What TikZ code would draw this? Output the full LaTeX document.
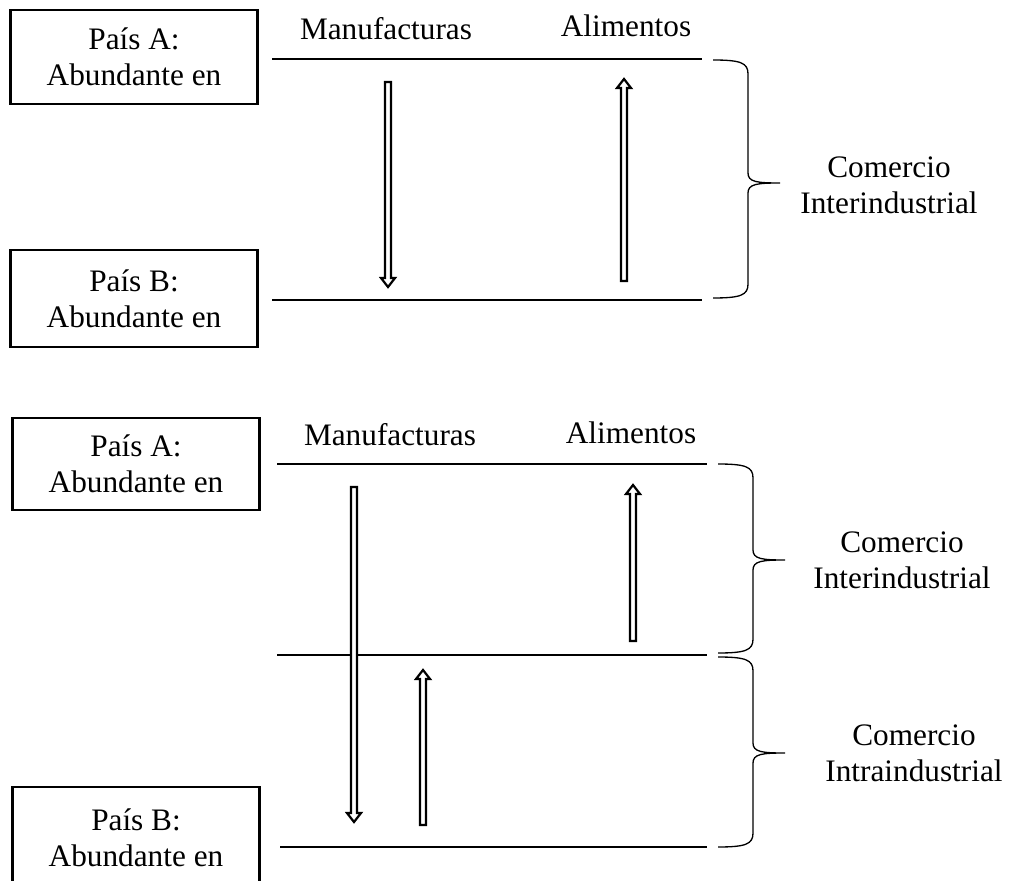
\documentclass[tikz,border=0pt]{standalone}
\usepackage{fontspec}
\setmainfont{Liberation Serif}
\usetikzlibrary{calc}
\def\flechabaja(#1,#2,#3){\draw[flecha] ({#1-3},#2) -- ({#1+3},#2) -- ({#1+3},{#3-9}) -- ({#1+7},{#3-9}) -- (#1,#3) -- ({#1-7},{#3-9}) -- ({#1-3},{#3-9}) -- cycle;}
\def\flechasube(#1,#2,#3){\draw[flecha] ({#1-3},#2) -- ({#1+3},#2) -- ({#1+3},{#3+9}) -- ({#1+7},{#3+9}) -- (#1,#3) -- ({#1-7},{#3+9}) -- ({#1-3},{#3+9}) -- cycle;}
\def\llave(#1,#2,#3,#4){\draw[line width=0.75pt] (#1,#2) .. controls ({#1+28},#2) and ({#1+35},{#2+3}) .. ({#1+35},{#2+14}) -- ({#1+35},{#3-10}) .. controls ({#1+35},{#3-1}) and ({#1+44},#3) .. ({#1+67},#3) .. controls ({#1+44},#3) and ({#1+35},{#3+1}) .. ({#1+35},{#3+10}) -- ({#1+35},{#4-14}) .. controls ({#1+35},{#4-3}) and ({#1+28},#4) .. (#1,#4);}
\tikzset{
	texto/.style={inner sep=0pt, font=\fontsize{17.8}{20.5}\selectfont},
	pais/.style={texto, draw, line width=1.4pt, align=center, minimum width=4.94cm},
	linea/.style={line width=0.9pt},
	flecha/.style={line width=1.25pt, line join=miter, fill=white}
}

\begin{document}
\begin{tikzpicture}[x=0.02cm, y=-0.02cm]
			%%%%% START %%%%%
			\useasboundingbox (0, 0) rectangle (1010, 881);
			
			%% comercio interindustrial
			\node[pais, minimum height=1.88cm] (paisA1) at (134, 57) {País A:\\Abundante en};
			\node[pais, minimum height=1.94cm] (paisB1) at (134, 298.5) {País B:\\Abundante en};
			
			\node[texto, anchor=base] (manuf1) at (386, 40) {Manufacturas};
			\node[texto, anchor=base] (alim1) at (626, 37) {Alimentos};
			
			\draw[linea] (272, 59) -- (702, 59);
			\draw[linea] (272, 300) -- (702, 300);
			
			\flechabaja(388, 82, 287);
			\flechasube(624, 281, 79);
			
			\llave(713, 60, 183, 298);
			\node[texto, align=center] (inter1) at (889, 185) {Comercio\\Interindustrial};
			
			%% comercio intraindustrial
			\node[pais, minimum height=1.84cm] (paisA2) at (136, 464) {País A:\\Abundante en};
			\node[pais, minimum height=2.04cm] (paisB2) at (136, 838) {País B:\\Abundante en};
			
			\node[texto, anchor=base] (manuf2) at (390, 445) {Manufacturas};
			\node[texto, anchor=base] (alim2) at (631, 443) {Alimentos};
			
			\draw[linea] (277, 464) -- (707, 464);
			\draw[linea] (277, 655) -- (707, 655);
			\draw[linea] (280, 847) -- (707, 847);
			
			\flechabaja(354, 487, 822);
			\flechasube(633, 641, 485);
			\flechasube(423, 825, 670);
			
			\llave(718, 464, 560, 653);
			\llave(718, 657, 753, 847);
			\node[texto, align=center] (inter2) at (902, 560) {Comercio\\Interindustrial};
			\node[texto, align=center] (intra2) at (914, 753) {Comercio\\Intraindustrial};
			%%%%% END %%%%%
		\end{tikzpicture}
\end{document}
